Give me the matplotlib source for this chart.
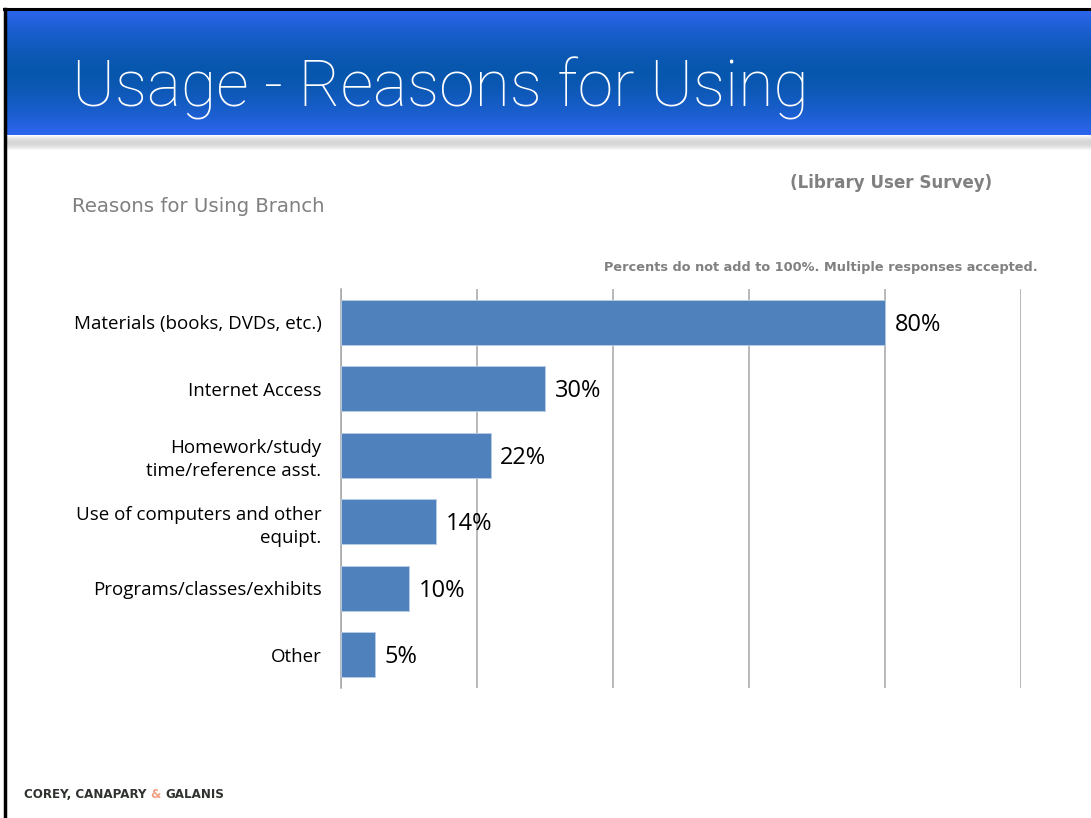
import numpy as np
import matplotlib.pyplot as plt
from matplotlib.lines import Line2D

categories = ['Materials (books, DVDs, etc.)', 'Internet Access',
              'Homework/study\ntime/reference asst.',
              'Use of computers and other\nequipt.',
              'Programs/classes/exhibits', 'Other']
values = [80, 30, 22, 14, 10, 5]
value_labels = ['80%', '30%', '22%', '14%', '10%', '5%']
x_ticks = [0, 20, 40, 60, 80, 100]

W, H = 1091, 818
fig = plt.figure(figsize=(W / 100, H / 100), dpi=100)
fig.patch.set_facecolor('white')

# header band with vertical blue gradient
hdr = fig.add_axes([6 / W, 1 - 135 / H, 1 - 6 / W, 125 / H])
t = np.linspace(0, 1, 200)
mix = np.abs(t - 0.5) * 2
light = np.array([0.18, 0.40, 0.94])
dark = np.array([0.03, 0.34, 0.68])
grad = dark[None, :] + (light - dark)[None, :] * (mix ** 1.6)[:, None]
hdr.imshow(grad[:, None, :], aspect='auto', extent=[0, 1, 0, 1])
hdr.set_axis_off()
hdr.text(66 / (W - 6), 0.37, 'Usage - Reasons for Using', color='white',
         fontsize=46.4, family='Roboto', fontweight='light', va='center', ha='left')

# soft grey shadow under the header
sh = fig.add_axes([6 / W, 1 - 152 / H, 1 - 6 / W, 17 / H])
s = np.linspace(0, 1, 50)
shade = 1 - 0.16 * np.sin(np.pi * np.clip(s * 1.1, 0, 1))
sh.imshow(np.repeat(shade[:, None, None], 3, axis=2), aspect='auto',
          extent=[0, 1, 0, 1], vmin=0, vmax=1)
sh.set_axis_off()

# slide frame: black line on top and left
fig.add_artist(Line2D([4 / W, 1], [1 - 9 / H, 1 - 9 / H], color='black', lw=2.2))
fig.add_artist(Line2D([4.5 / W, 4.5 / W], [0, 1 - 9 / H], color='black', lw=2.5))

fig.text(72 / W, 1 - 207 / H, 'Reasons for Using Branch', color='#808080',
         fontsize=14.2, family='DejaVu Sans', va='center', ha='left')
fig.text(992 / W, 1 - 183 / H, '(Library User Survey)', color='#808080',
         fontsize=12.1, family='DejaVu Sans', fontweight='bold', va='center', ha='right')
fig.text(1038 / W, 1 - 268 / H, 'Percents do not add to 100%. Multiple responses accepted.',
         color='#808080', fontsize=9.3, family='DejaVu Sans', fontweight='bold',
         va='center', ha='right')

# chart
ax = fig.add_axes([341 / W, 1 - 688 / H, 680 / W, 399 / H])
y = np.arange(len(categories))
ax.barh(y, values, height=0.68, color='#4f81bd', edgecolor='#b9cde5',
        linewidth=0.6, zorder=3)
for yi, v, lab in zip(y, values, value_labels):
    ax.text(v + 1.4, yi + 0.04, lab, va='center', ha='left', fontsize=17,
            family='Open Sans', color='black', zorder=4)
ax.set_xlim(0, 100)
ax.set_ylim(len(categories) - 0.5, -0.5)
ax.set_xticks(x_ticks)
ax.set_xticklabels([])
ax.set_yticks(y)
ax.set_yticklabels(categories, fontsize=13.5, family='Open Sans',
                   linespacing=1.35, ha='right')
ax.tick_params(axis='both', length=0, pad=14)
ax.grid(axis='x', color='#a6a6a6', linewidth=1.1, zorder=0)
for side in ['top', 'right', 'bottom']:
    ax.spines[side].set_visible(False)
ax.spines['left'].set_color('#a6a6a6')
ax.spines['left'].set_linewidth(1.1)

# footer logo text, pieces chained one after another
renderer = fig.canvas.get_renderer()
x0 = 24
for piece, col in [('COREY, CANAPARY ', '#2e332e'), ('& ', '#f0a080'), ('GALANIS', '#2e332e')]:
    txt = fig.text(x0 / W, 1 - 794 / H, piece, color=col, fontsize=8.6,
                   family='DejaVu Sans', fontweight='heavy', va='center', ha='left')
    x0 = txt.get_window_extent(renderer).x1

fig.savefig('out.png', dpi=100)
